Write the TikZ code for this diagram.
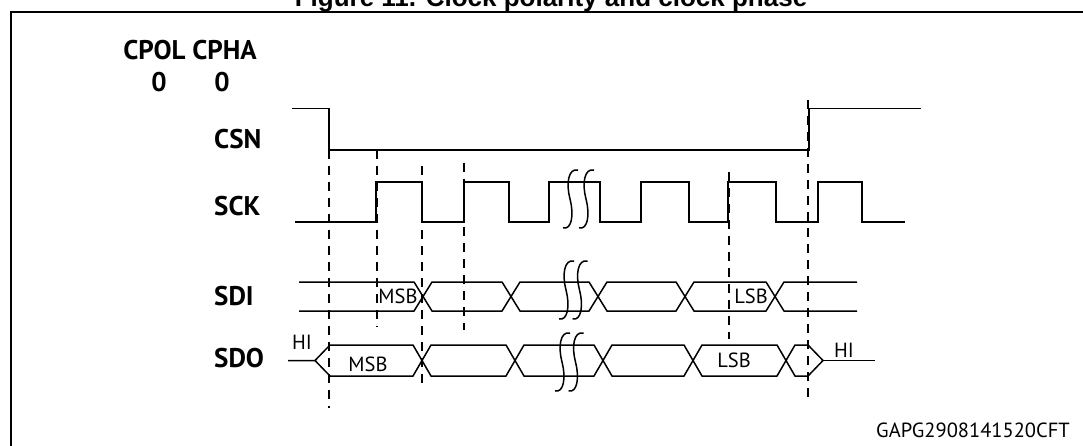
\documentclass[tikz,border=0pt]{standalone}
\usepackage{fontspec}
\setmainfont{PT Sans}
\newfontfamily\titlefont{Liberation Sans}
\tikzset{
  wave/.style={line width=1.5pt},
  guide/.style={line width=1.1pt, dash pattern=on 9pt off 7pt},
  framebox/.style={line width=2.3pt},
  sig/.style={font=\fontsize{27}{32}\selectfont\bfseries, inner sep=0pt},
  lbl/.style={font=\fontsize{20.5}{24}\selectfont, inner sep=0pt},
  ttl/.style={font=\titlefont\fontsize{26}{30}\selectfont\bfseries, inner sep=0pt},
  squig/.pic={\draw[line width=1.5pt] (8,-29) .. controls (-2,-31) and (-4,-15) .. (0,0) .. controls (4,15) and (2,31) .. (-7,29);}
}
\begin{document}
\begin{tikzpicture}[x=1pt,y=-1pt]
\useasboundingbox (0,0) rectangle (1083,446);
\clip (0,0) rectangle (1083,446);
% frame and title
\draw[framebox] (11,460) -- (11,12) -- (1100,12);
\node[ttl, anchor=base] (title) at (551,7) {Figure 11. Clock polarity and clock phase};
% guide lines
\draw[guide] (329,150) -- (329,408);
\draw[guide] (377,150) -- (377,327);
\draw[guide] (422,166) -- (422,388);
\draw[guide] (464,163) -- (464,330);
\draw[guide] (729,172) -- (729,339);
\draw[guide] (808,100) -- (808,398);
% CSN
\draw[wave] (292,108.5) -- (329,108.5) -- (329,150) -- (809,150) -- (809,108.5) -- (921,108.5);
% SCK
\draw[wave] (295,222) -- (376,222) -- (376,182) -- (422,182) -- (422,222) -- (464,222) -- (464,182) -- (509,182) -- (509,222) -- (549,222) -- (549,182) -- (600,182) -- (600,222) -- (641,222) -- (641,182) -- (689,182) -- (689,222) -- (728,222) -- (728,182) -- (776,182) -- (776,222) -- (818,222) -- (818,182) -- (862,182) -- (862,222) -- (905,222);
\pic at (570,199) {squig};
\pic at (586,199) {squig};
% SDI
\draw[wave] (299,282) -- (414,282) -- (423,296.5) -- (414,311) -- (299,311);
\foreach \a/\b in {423/511, 511/598, 598/685, 685/775}
  \draw[wave] (\a,296.5) -- (\a+9,282) -- (\b-9,282) -- (\b,296.5) -- (\b-9,311) -- (\a+9,311) -- cycle;
\draw[wave] (857,282) -- (784,282) -- (775,296.5) -- (784,311) -- (857,311);
\pic at (566,290) {squig};
\pic at (579.5,290) {squig};
% SDO
\draw[wave] (288,360.5) -- (315,360.5) -- (330,345) -- (413,345) -- (422,360.5) -- (413,376) -- (330,376) -- (315,360.5);
\foreach \a/\b in {422/515, 515/603, 603/693, 693/786}
  \draw[wave] (\a,360.5) -- (\a+9,345) -- (\b-9,345) -- (\b,360.5) -- (\b-9,376) -- (\a+9,376) -- cycle;
\draw[wave] (786,360.5) -- (795,345) -- (808,345) -- (823,360.5) -- (808,376) -- (795,376) -- cycle;
\draw[wave] (823,360.5) -- (875,360.5);
\pic at (562,362) {squig};
\pic at (575.5,362) {squig};
% labels
\node[sig, anchor=base] (cpol) at (190,60) {CPOL CPHA};
\node[sig, anchor=base] (pval) at (159,92) {0};
\node[sig, anchor=base] (hval) at (222,92) {0};
\node[sig, anchor=base west] (csn) at (214,149) {CSN};
\node[sig, anchor=base west] (sck) at (214,215) {SCK};
\node[sig, anchor=base west] (sdi) at (214,305) {SDI};
\node[sig, anchor=base west] (sdo) at (214,367) {SDO};
\node[lbl, anchor=base] (msbi) at (398,303) {MSB};
\node[lbl, anchor=base] (lsbi) at (751,303) {LSB};
\node[lbl, anchor=base] (msbo) at (368,371) {MSB};
\node[lbl, anchor=base] (lsbo) at (734,367) {LSB};
\node[lbl, anchor=base] (hil) at (302,349) {HI};
\node[lbl, anchor=base] (hir) at (844,357) {HI};
\node[lbl, anchor=base east] (code) at (1070,437) {GAPG2908141520CFT};
\end{tikzpicture}
\end{document}
